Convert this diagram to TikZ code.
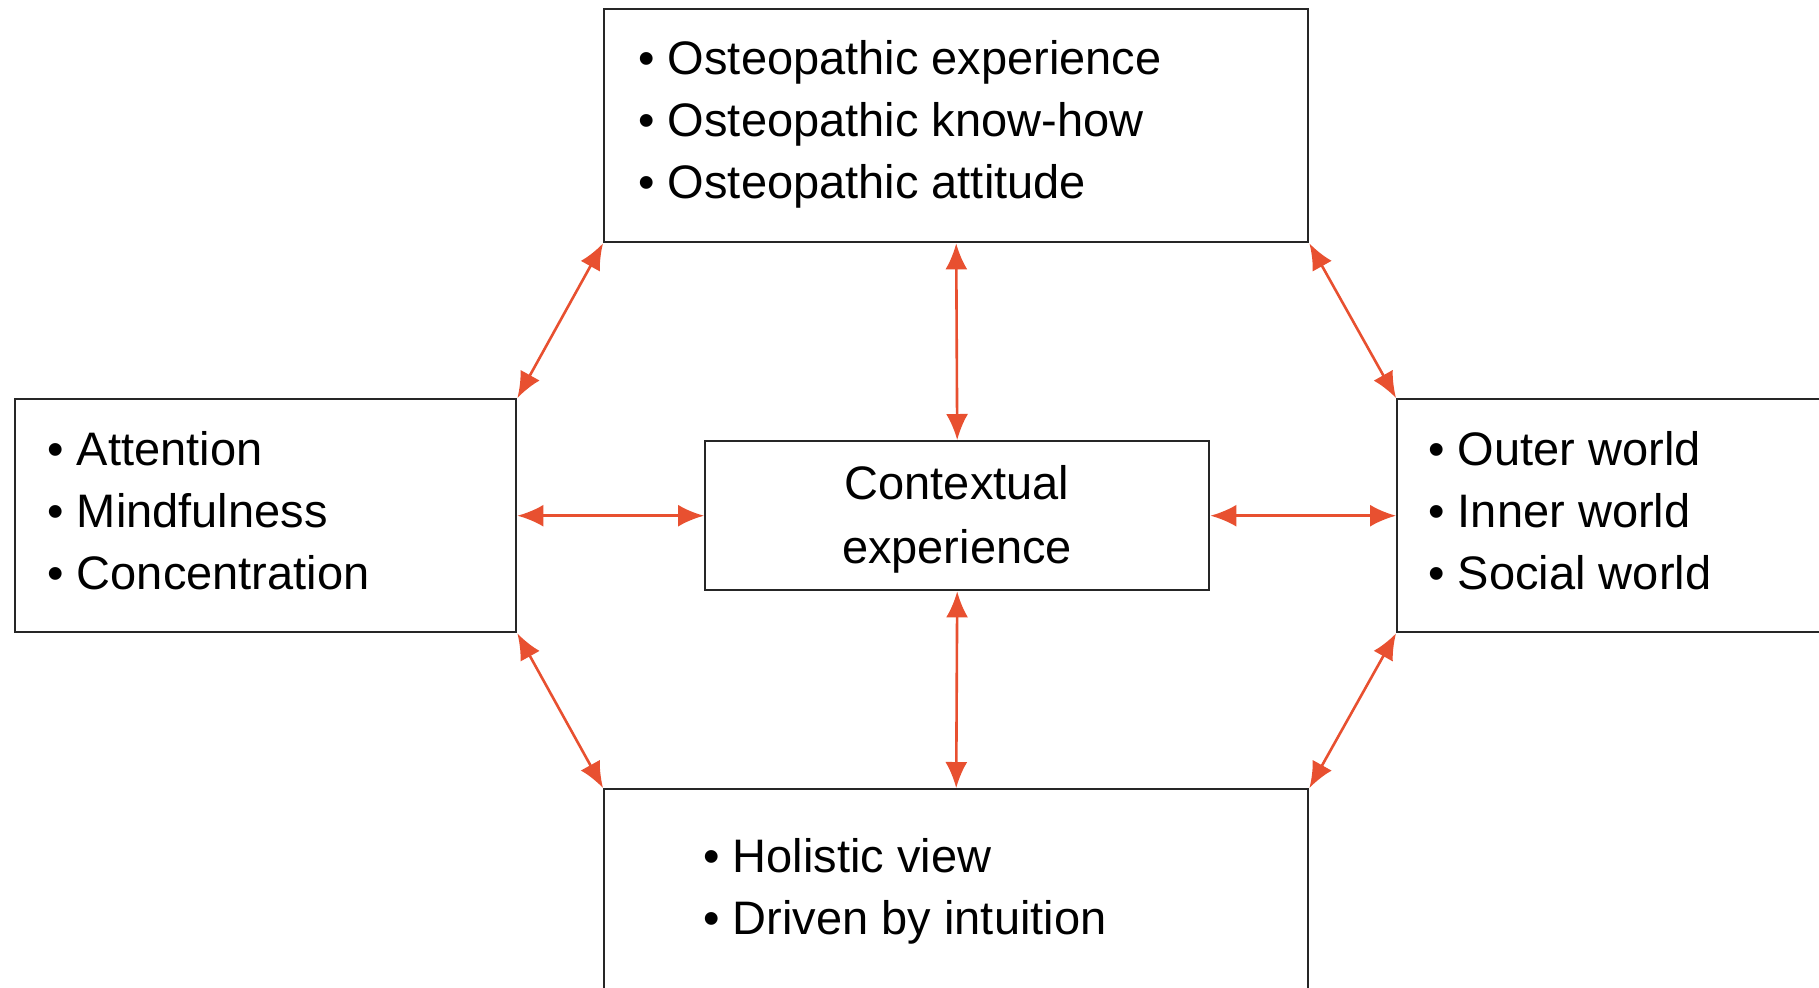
\documentclass[tikz,border=0pt]{standalone}
\usepackage{fontspec}
\setmainfont{Liberation Sans}
\usetikzlibrary{arrows.meta}
\definecolor{linkred}{RGB}{232,80,48}
\begin{document}
\begin{tikzpicture}[x=0.5pt,y=-0.5pt,
  box/.style={draw=black!85, line width=1.2pt, rectangle, inner sep=0pt, anchor=north west},
  items/.style={align=left, anchor=west, inner sep=0pt, font=\fontsize{23.5pt}{31pt}\selectfont},
  centred/.style={align=center, inner sep=0pt, font=\fontsize{23.5pt}{32pt}\selectfont},
  link/.style={draw=linkred, line width=1.3pt, {Latex[length=13pt,width=11pt]}-{Latex[length=13pt,width=11pt]}}
]
\clip (0,0) rectangle (1819,987);
\fill[white] (0,0) rectangle (1819,987);

% boxes
\node[box, minimum width=352pt, minimum height=116.5pt] (top) at (603,8) {};
\node[box, minimum width=250.5pt, minimum height=116.5pt] (left) at (14,398) {};
\node[box, minimum width=252pt, minimum height=74.5pt] (mid) at (704,440) {};
\node[box, minimum width=222pt, minimum height=116.5pt] (right) at (1396,398) {};
\node[box, minimum width=352pt, minimum height=111pt] (bottom) at (603,788) {};

% box texts
\node[items] (toptext) at (638,124) {• Osteopathic experience\\• Osteopathic know-how\\• Osteopathic attitude};
\node[items] (lefttext) at (47,511) {• Attention\\• Mindfulness\\• Concentration};
\node[centred] (midtext) at (957,519) {Contextual\\experience};
\node[items] (righttext) at (1428,511) {• Outer world\\• Inner world\\• Social world};
\node[items] (bottomtext) at (703,891) {• Holistic view\\• Driven by intuition};

% connectors
\draw[link] (top.south west) -- (left.north east);
\draw[link] (top.south) -- (mid.north);
\draw[link] (top.south east) -- (right.north west);
\draw[link] (left.east) -- (mid.west);
\draw[link] (mid.east) -- (right.west);
\draw[link] (left.south east) -- (bottom.north west);
\draw[link] (mid.south) -- (bottom.north);
\draw[link] (right.south west) -- (bottom.north east);
\end{tikzpicture}
\end{document}
